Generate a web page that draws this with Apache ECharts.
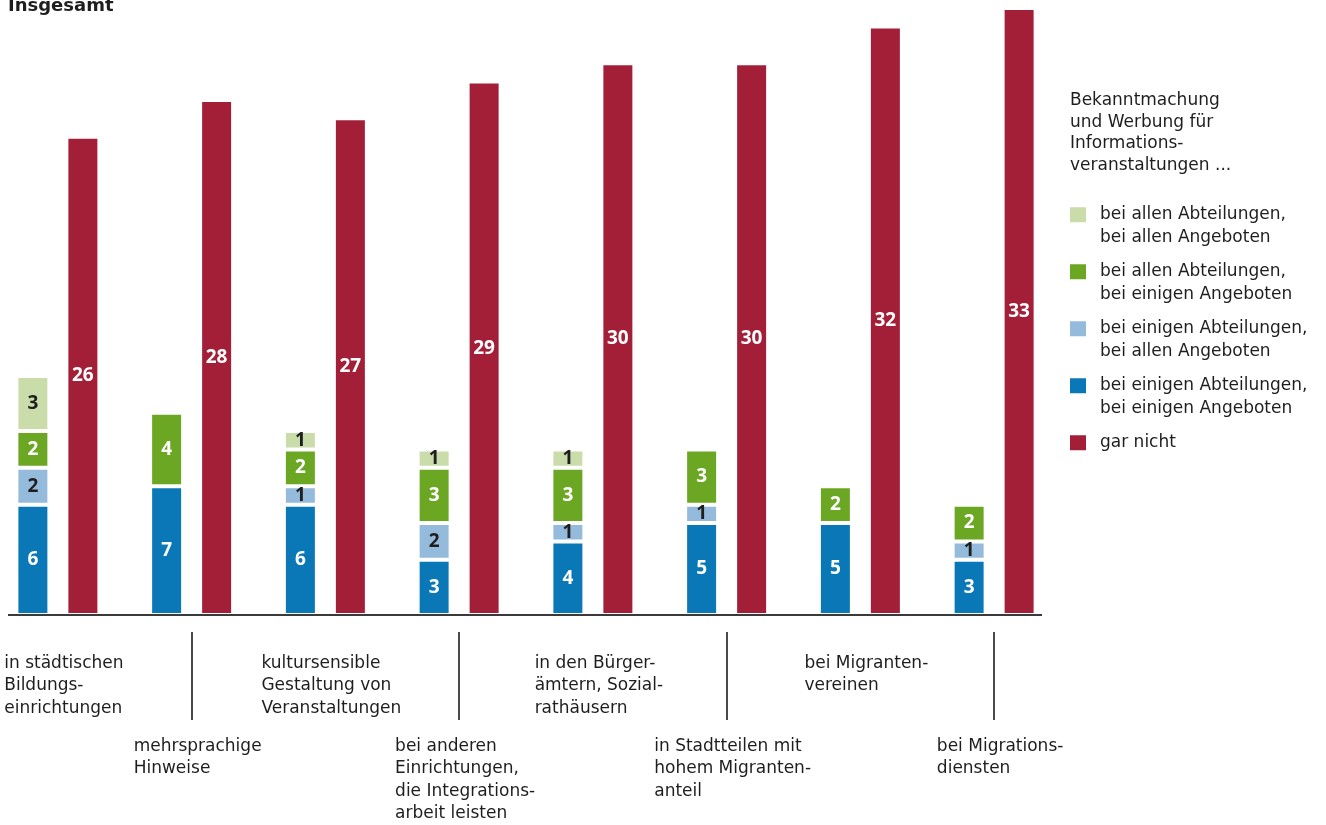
<!DOCTYPE html>
<html>
<head>
<meta charset="utf-8">
<script src="https://cdn.jsdelivr.net/npm/echarts@6/dist/echarts.min.js"></script>
<style>
  html, body { margin: 0; padding: 0; background: #fff; }
  #chart { width: 1326px; height: 825px; }
</style>
</head>
<body>
<div id="chart"></div>
<script>
// Kategorien (Zeilenumbrüche wie in der Beschriftung)
const categories = [
  'in städtischen\nBildungs-\neinrichtungen',
  'mehrsprachige\nHinweise',
  'kultursensible\nGestaltung von\nVeranstaltungen',
  'bei anderen\nEinrichtungen,\ndie Integrations-\narbeit leisten',
  'in den Bürger-\nämtern, Sozial-\nrathäusern',
  'in Stadtteilen mit\nhohem Migranten-\nanteil',
  'bei Migranten-\nvereinen',
  'bei Migrations-\ndiensten'
];

// Anzahl der Nennungen je Antwortkategorie
const einigeAbtEinigeAng = [6, 7, 6, 3, 4, 5, 5, 3];
const einigeAbtAlleAng   = [2, null, 1, 2, 1, 1, null, 1];
const alleAbtEinigeAng   = [2, 4, 2, 3, 3, 3, 2, 2];
const alleAbtAlleAng     = [3, null, 1, 1, 1, null, null, null];
const garNicht           = [26, 28, 27, 29, 30, 30, 32, 33];

const seriesNames = {
  alleAlle:   'bei allen Abteilungen,\nbei allen Angeboten',
  alleEinige: 'bei allen Abteilungen,\nbei einigen Angeboten',
  einigeAlle: 'bei einigen Abteilungen,\nbei allen Angeboten',
  einigeEinige: 'bei einigen Abteilungen,\nbei einigen Angeboten',
  garNicht:   'gar nicht'
};

const chartTitle = 'Insgesamt';
const legendTitle = 'Bekanntmachung\nund Werbung für\nInformations-\nveranstaltungen ...';

const FONT = '"DejaVu Sans", sans-serif';
const NUM_FONT = '"Open Sans", sans-serif';
const TEXT = '#1e1e1e';
const COLORS = {
  einigeEinige: '#0a78b6',
  einigeAlle: '#94bbdc',
  alleEinige: '#6ba723',
  alleAlle: '#cbdcab',
  garNicht: '#a31f38'
};

const gridLeft = -9, gridWidth = 1070, gridTop = 8, gridBottom = 210;
const baseY = 825 - gridBottom;

const chart = echarts.init(document.getElementById('chart'), null, { renderer: 'canvas' });

function barLabel(color) {
  return {
    show: true,
    position: 'inside',
    color: color,
    fontFamily: NUM_FONT,
    fontWeight: 'bold',
    fontSize: 19
  };
}

function stackSeries(name, data, color, labelColor) {
  return {
    name: name,
    type: 'bar',
    stack: 'angebote',
    barWidth: 33,
    barGap: '51.5%',
    data: data,
    itemStyle: { color: color, borderColor: '#fff', borderWidth: 2 },
    label: barLabel(labelColor),
    emphasis: { disabled: true }
  };
}

const richLabel = v => v.split('\n').map(s => '{l|' + s + '}').join('\n');
const labelRich = { l: { align: 'left', fontFamily: FONT, fontSize: 17, lineHeight: 22.5, color: TEXT } };

chart.setOption({
  animation: false,
  title: [
    {
      text: chartTitle,
      left: 8, top: -3, padding: 0,
      textStyle: { fontFamily: FONT, fontWeight: 'bold', fontSize: 18, color: TEXT }
    },
    {
      text: legendTitle,
      left: 1070, top: 90, padding: 0,
      textStyle: { fontFamily: FONT, fontWeight: 'normal', fontSize: 17, lineHeight: 21.5, color: TEXT }
    }
  ],
  legend: {
    orient: 'vertical',
    left: 1070,
    top: 178,
    padding: 0,
    itemWidth: 16,
    itemHeight: 15,
    itemGap: -16.5,
    icon: 'rect',
    itemStyle: { borderWidth: 0 },
    selectedMode: false,
    data: [seriesNames.alleAlle, seriesNames.alleEinige, seriesNames.einigeAlle, seriesNames.einigeEinige, seriesNames.garNicht],
    // erste Textzeile auf Höhe des Farbquadrats
    formatter: name => '\n' + name + (name.indexOf('\n') >= 0 ? '' : '\n'),
    textStyle: { fontFamily: FONT, fontSize: 17, lineHeight: 22.5, color: TEXT, padding: [6, 0, 0, 9] }
  },
  grid: { left: gridLeft, width: gridWidth, top: gridTop, bottom: gridBottom, outerBoundsMode: 'none', containLabel: false },
  xAxis: [
    {
      type: 'category',
      data: categories,
      axisLine: { show: false },
      axisTick: { show: false },
      axisLabel: {
        interval: i => i % 2 === 0,
        margin: 37,
        padding: [0, 0, 0, 12],
        formatter: richLabel,
        rich: labelRich
      }
    },
    {
      type: 'category',
      data: categories,
      position: 'bottom',
      offset: 17,
      axisLine: { show: false },
      axisTick: {
        show: true,
        alignWithLabel: true,
        interval: i => i % 2 === 1,
        length: 88,
        lineStyle: { color: '#4a4a4a', width: 2 }
      },
      axisLabel: {
        interval: i => i % 2 === 1,
        margin: 103,
        padding: [0, 0, 0, 12],
        formatter: richLabel,
        rich: labelRich
      }
    }
  ],
  yAxis: { type: 'value', min: 0, max: 33, show: false, splitLine: { show: false } },
  series: [
    stackSeries(seriesNames.einigeEinige, einigeAbtEinigeAng, COLORS.einigeEinige, '#fff'),
    stackSeries(seriesNames.einigeAlle, einigeAbtAlleAng, COLORS.einigeAlle, TEXT),
    stackSeries(seriesNames.alleEinige, alleAbtEinigeAng, COLORS.alleEinige, '#fff'),
    stackSeries(seriesNames.alleAlle, alleAbtAlleAng, COLORS.alleAlle, TEXT),
    {
      name: seriesNames.garNicht,
      type: 'bar',
      barWidth: 33,
      barGap: '51.5%',
      data: garNicht,
      itemStyle: { color: COLORS.garNicht, borderColor: '#fff', borderWidth: 2 },
      label: barLabel('#fff'),
      emphasis: { disabled: true }
    }
  ],
  graphic: {
    elements: [
      {
        type: 'line',
        z: 100,
        shape: { x1: 8, y1: baseY, x2: 1042, y2: baseY },
        style: { stroke: '#3a3a3a', lineWidth: 2 }
      }
    ]
  }
});
</script>
</body>
</html>
